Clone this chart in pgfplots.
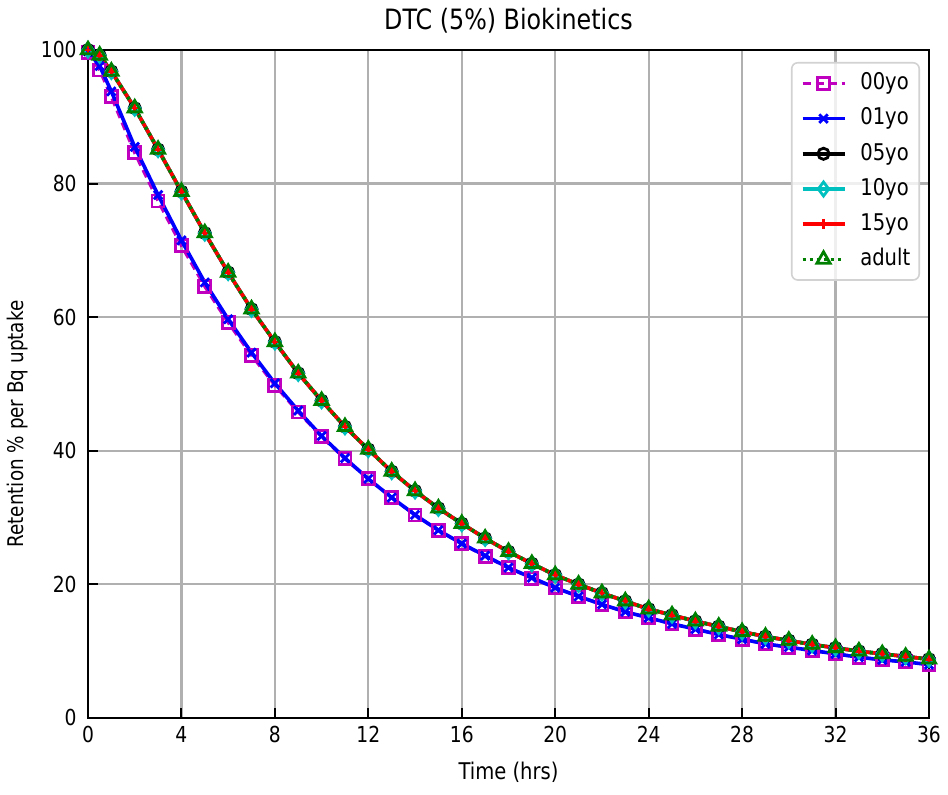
\documentclass[border=0pt]{standalone}
\usepackage{fontspec}
\setmainfont{DejaVu Sans}[FakeStretch=0.85]
\usepackage{pgfplots}
\pgfplotsset{compat=1.18}
\usepackage{pgfplotstable}

\definecolor{mplm}{rgb}{0.75,0,0.75}
\definecolor{mplc}{rgb}{0,0.75,0.75}
\definecolor{mplg}{rgb}{0,0.5,0}
\definecolor{gridc}{HTML}{B0B0B0}

\pgfplotstableread{
t    y00   y01   y05   y10   y15   yad
0    99.6  99.8  100.0 100.0 100.0 100.0
0.5  97.0  97.6  99.2  99.2  99.2  99.2
1    93.0  93.8  96.8  96.8  96.8  96.8
2    84.6  85.5  91.3  91.3  91.3  91.3
3    77.4  78.3  85.1  85.1  85.1  85.1
4    70.7  71.5  78.8  78.8  78.8  78.8
5    64.6  65.2  72.6  72.6  72.6  72.6
6    59.2  59.7  66.7  66.7  66.7  66.7
7    54.3  54.7  61.2  61.2  61.2  61.2
8    49.8  50.1  56.3  56.3  56.3  56.3
9    45.8  46.0  51.6  51.6  51.6  51.6
10   42.1  42.2  47.5  47.5  47.5  47.5
11   38.8  38.9  43.6  43.6  43.6  43.6
12   35.8  35.8  40.2  40.2  40.2  40.2
13   33.0  33.0  36.9  36.9  36.9  36.9
14   30.4  30.4  34.0  34.0  34.0  34.0
15   28.1  28.1  31.4  31.4  31.4  31.4
16   26.1  26.1  29.1  29.1  29.1  29.1
17   24.2  24.3  26.9  26.9  26.9  26.9
18   22.5  22.5  24.9  24.9  24.9  24.9
19   20.9  21.0  23.1  23.1  23.1  23.1
20   19.5  19.5  21.4  21.4  21.4  21.4
21   18.2  18.2  20.0  20.0  20.0  20.0
22   17.0  17.0  18.7  18.7  18.7  18.7
23   15.9  15.9  17.5  17.5  17.5  17.5
24   15.0  15.0  16.3  16.3  16.3  16.3
25   14.1  14.1  15.4  15.4  15.4  15.4
26   13.3  13.3  14.5  14.5  14.5  14.5
27   12.5  12.5  13.7  13.7  13.7  13.7
28   11.8  11.8  12.9  12.9  12.9  12.9
29   11.1  11.1  12.2  12.2  12.2  12.2
30   10.6  10.6  11.6  11.6  11.6  11.6
31   10.1  10.1  11.0  11.0  11.0  11.0
32   9.6   9.6   10.5  10.5  10.5  10.5
33   9.1   9.1   10.0  10.0  10.0  10.0
34   8.7   8.7   9.6   9.6   9.6   9.6
35   8.4   8.4   9.2   9.2   9.2   9.2
36   8.0   8.0   8.8   8.8   8.8   8.8
}\data

\begin{document}
\begin{tikzpicture}
\begin{axis}[
  scale only axis, width=420.5pt, height=334pt,
  xmin=0, xmax=36, ymin=0, ymax=100,
  xtick={0,4,...,36}, ytick={0,20,...,100},
  grid=major, major grid style={line width=1.1pt, color=gridc},
  axis line style={line width=0.85pt},
  tick align=inside, xtick pos=left, ytick pos=left,
  major tick length=4.75pt,
  every tick/.style={black, line width=1pt},
  /pgf/number format/assume math mode=true,
  tick label style={font=\fontsize{11}{13}\selectfont},
  xticklabel style={anchor=north, inner sep=0pt, yshift=-4pt},
  yticklabel style={anchor=east, inner sep=0pt, xshift=-5.5pt},
  title={DTC (5\%) Biokinetics},
  title style={at={(axis description cs:0.5,1)}, anchor=base, yshift=4pt, inner sep=0pt, font=\fontsize{14}{16}\selectfont},
  xlabel={Time (hrs)},
  xlabel style={at={(axis description cs:0.5,0)}, anchor=center, yshift=-27pt, inner sep=0pt, font=\fontsize{11.5}{13}\selectfont},
  ylabel={Retention \% per Bq uptake},
  ylabel style={at={(axis description cs:-0.0832,0.44)}, anchor=center, inner sep=0pt, font=\fontsize{10.8}{12}\selectfont},
  legend cell align=left,
  legend style={at={(1,1)}, anchor=north east, xshift=-4.5pt, yshift=-6pt,
    draw=gray!35, line width=0.8pt, rounded corners=3pt, fill=white, fill opacity=0.8, text opacity=1,
    inner xsep=4.5pt, inner ysep=1.5pt, row sep=0pt, column sep=7pt,
    font=\fontsize{11.5}{13}\selectfont,
    nodes={inner xsep=0pt, inner ysep=3pt, text height=9pt, text depth=2.6pt}},
  legend image code/.code={\draw[mark repeat=2,mark phase=2] plot coordinates {(0pt,0pt) (10.5pt,0pt) (21pt,0pt)};},
]
\addplot[mplm, line width=1.6pt, dash pattern=on 4pt off 2.5pt, mark=square, mark size=3pt, mark options={solid, line width=1.4pt, fill=none}] table[x=t,y=y00]{\data};
\addlegendentry{00yo}
\addplot[blue, line width=1.8pt, mark=x, mark size=3pt, mark options={solid, line width=1.4pt}] table[x=t,y=y01]{\data};
\addlegendentry{01yo}
\addplot[black, line width=1.8pt, mark=o, mark size=2.8pt, mark options={solid, line width=1.4pt, fill=none}] table[x=t,y=y05]{\data};
\addlegendentry{05yo}
\addplot[mplc, line width=1.8pt, mark=diamond, mark size=3.5pt, mark options={solid, line width=1.4pt, fill=none}] table[x=t,y=y10]{\data};
\addlegendentry{10yo}
\addplot[red, line width=1.8pt, mark=+, mark size=2.6pt, mark options={solid, line width=1.4pt}] table[x=t,y=y15]{\data};
\addlegendentry{15yo}
\addplot[mplg, line width=1.8pt, dash pattern=on 1.5pt off 2pt, mark=triangle, mark size=3.8pt, mark options={solid, line width=1.4pt, fill=none}] table[x=t,y=yad]{\data};
\addlegendentry{adult}
\end{axis}
\path ([xshift=-44pt,yshift=-38.5pt]current axis.south west) rectangle ([xshift=9.5pt,yshift=25pt]current axis.north east);
\end{tikzpicture}
\end{document}
